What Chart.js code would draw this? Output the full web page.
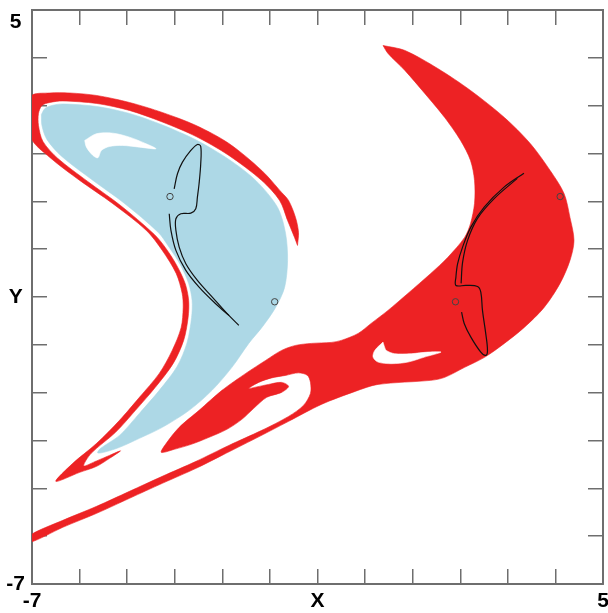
<!DOCTYPE html>
<html>
<head>
<meta charset="utf-8">
<script src="https://cdn.jsdelivr.net/npm/chart.js@4.4.1/dist/chart.umd.min.js"></script>
<style>
  html, body { margin: 0; padding: 0; background: #fff; }
  canvas { display: block; }
</style>
</head>
<body>
<canvas id="basins" width="608" height="613"></canvas>
<script>
// tick labels (the axis names sit on the tick line at -1)
const xTickValues = [-7, -1, 5];
const xTickLabels = ['-7', 'X', '5'];
const yTickValues = [-7, -1, 5];
const yTickLabels = ['-7', 'Y', '5'];

// left red band wrapping the blue basin
const bandX = [-1.420,-1.399,-1.462,-1.608,-1.754,-2.172,-2.862,-3.552,-4.262,-4.952,
  -5.642,-6.206,-6.624,-7.021,-7.021,-6.624,-5.997,-5.307,-4.597,-4.262,
  -3.970,-3.844,-3.823,-3.865,-4.053,-4.325,-4.743,-5.161,-5.642,-6.143,
  -6.499,-5.997,-5.642,-5.370,-5.140,-5.370,-5.642,-5.913,-5.757,-5.245,
  -4.826,-4.409,-4.032,-3.813,-3.719,-3.708,-3.782,-3.970,-4.200,-4.429,
  -5.140,-5.830,-6.457,-6.770,-6.864,-6.864,-6.791,-6.624,-6.352,-5.642,
  -4.952,-4.262,-3.552,-2.862,-2.172,-1.796,-1.629,-1.483];
const bandY = [0.078,0.350,0.663,1.019,1.186,1.646,2.210,2.586,2.858,3.067,
  3.213,3.265,3.265,3.192,2.335,1.917,1.437,0.956,0.392,-0.026,
  -0.507,-0.925,-1.218,-1.636,-2.116,-2.597,-3.098,-3.579,-4.060,-4.478,
  -4.854,-4.666,-4.540,-4.373,-4.217,-4.311,-4.426,-4.530,-4.269,-3.830,
  -3.370,-2.889,-2.388,-1.907,-1.427,-1.071,-0.716,-0.319,0.036,0.308,
  0.914,1.416,1.897,2.252,2.586,2.837,3.004,3.067,3.098,3.046,
  2.900,2.659,2.356,1.959,1.437,1.019,0.601,0.245];

// light blue basin
const blueX = [-6.802,-6.728,-6.582,-6.352,-5.642,-4.952,-4.262,-3.552,-2.862,-2.298,
  -1.838,-1.671,-1.629,-1.692,-1.880,-2.152,-2.444,-2.799,-3.217,-3.698,
  -4.262,-4.743,-5.161,-5.495,-5.621,-5.558,-5.161,-4.743,-4.325,-3.949,
  -3.740,-3.646,-3.635,-3.708,-3.886,-4.116,-4.346,-5.056,-5.746,-6.373,
  -6.687,-6.791];
const blueY = [2.816,2.941,3.004,3.035,2.983,2.837,2.597,2.283,1.876,1.437,
  0.872,0.329,-0.235,-0.800,-1.218,-1.615,-1.970,-2.471,-2.952,-3.370,
  -3.725,-3.955,-4.143,-4.248,-4.258,-4.164,-3.893,-3.433,-2.952,-2.450,
  -1.949,-1.427,-1.071,-0.716,-0.319,0.036,0.350,0.956,1.458,1.938,
  2.294,2.586];

// white hole inside the blue basin
const holeLX = [-5.892,-5.648,-5.301,-4.952,-4.603,-4.394,-4.743,-5.092,-5.370,-5.543,-5.614,-5.719,-5.857];
const holeLY = [2.273,2.413,2.425,2.342,2.204,2.099,2.133,2.168,2.147,2.064,1.911,1.959,2.133];

// right red basin (arm, body, tongue and long band)
const rightX = [0.377,0.837,1.527,2.216,2.927,3.470,3.888,4.181,4.306,4.390,
  4.306,4.097,3.763,3.345,2.927,2.509,2.091,1.673,1.381,0.273,
  -0.208,-0.918,-1.608,-2.298,-3.008,-3.552,-4.262,-4.952,-5.642,-6.352,
  -7.042,-7.042,-6.352,-5.642,-4.952,-4.262,-3.552,-2.862,-2.172,-1.608,
  -1.295,-1.148,-1.148,-1.211,-1.399,-1.671,-1.963,-2.235,-2.444,-2.277,
  -2.026,-1.754,-1.608,-1.754,-2.068,-2.340,-2.590,-2.904,-3.280,-3.656,
  -4.012,-4.283,-4.179,-3.907,-3.489,-3.008,-2.507,-2.089,-1.754,-1.462,
  -1.127,-0.709,-0.500,-0.145,0.127,0.482,0.900,1.381,1.736,2.091,
  2.216,2.300,2.300,2.216,2.007,1.673,1.255,0.837,0.482];
const rightY = [4.258,4.154,3.777,3.318,2.753,2.210,1.646,1.165,0.663,0.183,
  -0.235,-0.716,-1.218,-1.636,-1.970,-2.262,-2.471,-2.680,-2.743,-2.827,
  -2.973,-3.245,-3.600,-3.955,-4.311,-4.582,-4.896,-5.209,-5.523,-5.815,
  -6.129,-5.982,-5.669,-5.376,-5.063,-4.749,-4.436,-4.102,-3.788,-3.496,
  -3.266,-3.015,-2.785,-2.639,-2.586,-2.639,-2.691,-2.785,-2.910,-2.879,
  -2.827,-2.785,-2.868,-2.994,-3.098,-3.328,-3.558,-3.767,-3.934,-4.081,
  -4.185,-4.248,-4.060,-3.725,-3.370,-2.952,-2.597,-2.325,-2.116,-2.012,
  -1.970,-1.949,-1.907,-1.761,-1.552,-1.280,-0.925,-0.507,-0.173,0.245,
  0.538,0.956,1.437,1.855,2.273,2.753,3.255,3.736,4.091];

// white hole inside the right basin
const holeRX = [0.377,0.204,0.168,0.273,0.551,0.900,1.249,1.596,1.318,0.969,0.622,0.446,0.398];
const holeRY = [-1.943,-2.116,-2.256,-2.361,-2.394,-2.361,-2.256,-2.152,-2.152,-2.185,-2.185,-2.116,-2.012];

// attractors (black curves)
const leftAttrX = [-4.012,-3.943,-3.838,-3.662,-3.524,-3.454,-3.454,-3.489,-3.524,-3.558,
  -3.662,-3.872,-3.976,-3.976,-3.907,-3.767,-3.524,-3.211,-2.898,-2.653];
const leftAttrY = [1.263,1.577,1.819,2.064,2.189,2.147,1.786,1.368,1.088,0.845,
  0.753,0.741,0.636,0.392,0.043,-0.304,-0.653,-1.002,-1.349,-1.594];
const leftAttr2X = [-4.116,-4.080,-3.976,-3.767,-3.489,-3.140,-2.862];
const leftAttr2Y = [0.741,0.392,-0.026,-0.444,-0.793,-1.140,-1.385];
const rightAttrX = [3.339,2.921,2.503,2.223,2.049,1.945,1.909,1.909,2.118,2.363,
  2.432,2.467,2.536,2.572,2.536,2.432,2.223,2.085,2.028];
const rightAttrY = [1.589,1.297,0.879,0.461,0.043,-0.304,-0.584,-0.758,-0.758,-0.779,
  -0.898,-1.280,-1.767,-2.116,-2.221,-2.152,-1.838,-1.558,-1.316];
const rightAttr2X = [3.199,2.718,2.363,2.154,2.049,2.018];
const rightAttr2Y = [1.479,1.061,0.643,0.183,-0.277,-0.716];

// fixed points (small circles)
const markX = [-4.1, -1.9, 1.9, 4.1];
const markY = [1.1, -1.1, -1.1, 1.1];

const RED = '#ed2224';
const BLUE = '#add8e6';
const FRAME = '#6e6e6e';

function points(xs, ys, closed) {
  const pts = xs.map((x, i) => ({ x: x, y: ys[i] }));
  if (closed) pts.push({ x: xs[0], y: ys[0] });
  return pts;
}

function area(label, xs, ys, color, order) {
  return {
    label: label,
    data: points(xs, ys, true),
    showLine: true,
    fill: 'shape',
    backgroundColor: color,
    borderColor: color,
    borderWidth: 0.6,
    pointRadius: 0,
    pointHoverRadius: 0,
    tension: 0.3,
    order: order
  };
}

function curve(label, xs, ys, order) {
  return {
    label: label,
    data: points(xs, ys, false),
    showLine: true,
    fill: false,
    borderColor: '#111',
    borderWidth: 1.2,
    pointRadius: 0,
    pointHoverRadius: 0,
    tension: 0.35,
    order: order
  };
}

function tickText(values, labels, pushDown) {
  return function (value) {
    const i = values.indexOf(value);
    if (i < 0) return '';
    // top label sits below the frame corner, as in the original
    if (pushDown && value === values[values.length - 1]) return ['', labels[i]];
    return labels[i];
  };
}

const labelFont = { family: '"Liberation Sans", Arial, sans-serif', size: 21, weight: 'bold' };
const gridOpts = { drawOnChartArea: false, drawTicks: true, tickLength: -15, color: FRAME, lineWidth: 1.5 };
const borderOpts = { display: true, color: FRAME, width: 2 };

const ctx = document.getElementById('basins').getContext('2d');
new Chart(ctx, {
  type: 'scatter',
  data: {
    datasets: [
      area('red band', bandX, bandY, RED, 10),
      area('blue basin', blueX, blueY, BLUE, 9),
      area('hole left', holeLX, holeLY, '#ffffff', 8),
      area('red basin', rightX, rightY, RED, 7),
      area('hole right', holeRX, holeRY, '#ffffff', 6),
      curve('attractor left', leftAttrX, leftAttrY, 3),
      curve('attractor left 2', leftAttr2X, leftAttr2Y, 3),
      curve('attractor right', rightAttrX, rightAttrY, 3),
      curve('attractor right 2', rightAttr2X, rightAttr2Y, 3),
      {
        label: 'fixed points',
        data: points(markX, markY, false),
        showLine: false,
        pointRadius: 3.2,
        pointBorderColor: '#444',
        pointBackgroundColor: 'rgba(0,0,0,0)',
        pointBorderWidth: 1,
        order: 1
      }
    ]
  },
  options: {
    responsive: false,
    animation: false,
    layout: { padding: 0 },
    plugins: {
      legend: { display: false },
      tooltip: { enabled: false }
    },
    scales: {
      x: {
        type: 'linear', position: 'bottom', min: -7, max: 5,
        ticks: { stepSize: 1, autoSkip: false, maxRotation: 0, padding: 20, color: '#000',
                 font: labelFont, callback: tickText(xTickValues, xTickLabels, false) },
        grid: gridOpts, border: borderOpts,
        afterFit(s) { s.height = 29; s.paddingLeft = 0; s.paddingRight = 0; }
      },
      y: {
        type: 'linear', position: 'left', min: -7, max: 5,
        ticks: { stepSize: 1, autoSkip: false, padding: 22, crossAlign: 'center', color: '#000',
                 font: labelFont, callback: tickText(yTickValues, yTickLabels, true) },
        grid: gridOpts, border: borderOpts,
        afterFit(s) { s.width = 32; s.paddingTop = 0; s.paddingBottom = 0; }
      },
      xTop: {
        type: 'linear', position: 'top', min: -7, max: 5,
        ticks: { stepSize: 1, autoSkip: false, display: false },
        grid: gridOpts, border: borderOpts,
        afterFit(s) { s.height = 10; s.paddingLeft = 0; s.paddingRight = 0; }
      },
      yRight: {
        type: 'linear', position: 'right', min: -7, max: 5,
        ticks: { stepSize: 1, autoSkip: false, display: false },
        grid: gridOpts, border: borderOpts,
        afterFit(s) { s.width = 2; s.paddingTop = 0; s.paddingBottom = 0; }
      }
    }
  }
});
</script>
</body>
</html>
